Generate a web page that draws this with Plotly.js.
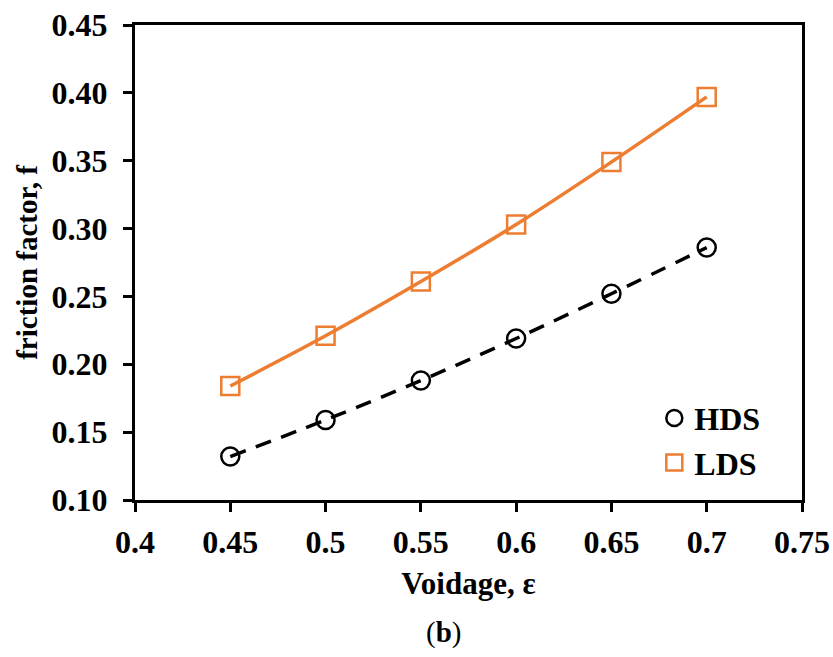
<!DOCTYPE html>
<html><head><meta charset="utf-8">
<script src="https://cdn.plot.ly/plotly-3.0.1.min.js"></script>
<style>body{margin:0}#c{width:833px;height:657px}</style></head>
<body><div id="c"></div>
<script>
const voidage = [0.45, 0.5, 0.55, 0.6, 0.65, 0.7];
const hdsF = [0.132, 0.159, 0.188, 0.219, 0.252, 0.286];
const ldsF = [0.184, 0.221, 0.261, 0.303, 0.349, 0.397];
const seriesNames = ['HDS', 'LDS'];
const fontFam = '"Liberation Serif", "Times New Roman", serif';
const orange = '#ED7D31';
const traces = [
  {x: voidage, y: hdsF, mode: 'lines', line: {color: '#000', width: 3.5, dash: '16px,11px', shape: 'spline'}, showlegend: false, hoverinfo: 'skip'},
  {x: voidage, y: ldsF, mode: 'lines', line: {color: orange, width: 3.5, shape: 'spline'}, showlegend: false, hoverinfo: 'skip'},
  {x: voidage, y: hdsF, mode: 'markers', name: seriesNames[0], marker: {symbol: 'circle-open', size: 18, color: '#000', line: {width: 2.5, color: '#000'}}},
  {x: voidage, y: ldsF, mode: 'markers', name: seriesNames[1], marker: {symbol: 'square-open', size: 18, color: orange, line: {width: 2.5, color: orange}}}
];
const layout = {
  width: 833, height: 657,
  margin: {l: 135, r: 31, t: 25, b: 157},
  paper_bgcolor: '#fff', plot_bgcolor: '#fff',
  font: {family: fontFam, color: '#000', size: 30},
  showlegend: true,
  legend: {x: 0.945, y: 0.125, xanchor: 'right', yanchor: 'middle', font: {family: fontFam, size: 32, weight: 'bold'}, bgcolor: 'rgba(0,0,0,0)', itemwidth: 30, tracegroupgap: 0},
  xaxis: {
    range: [0.4, 0.75], dtick: 0.05, tick0: 0.4, showgrid: false, zeroline: false,
    showline: true, linecolor: '#000', linewidth: 3, mirror: true,
    ticks: 'outside', ticklen: 9, tickwidth: 3, tickcolor: '#000', ticklabelstandoff: 3,
    tickfont: {family: fontFam, size: 32, weight: 'bold'},
    title: {text: 'Voidage, ε', font: {family: fontFam, size: 31, weight: 'bold'}, standoff: 13}
  },
  yaxis: {
    range: [0.10, 0.45], dtick: 0.05, tick0: 0.1, tickformat: '.2f', showgrid: false, zeroline: false,
    showline: true, linecolor: '#000', linewidth: 3, mirror: true,
    ticks: 'outside', ticklen: 9, tickwidth: 3, tickcolor: '#000', ticklabelstandoff: 9,
    tickfont: {family: fontFam, size: 32, weight: 'bold'},
    title: {text: 'friction factor, f', font: {family: fontFam, size: 29, weight: 'bold'}, standoff: 6}
  },
  annotations: [{
    text: '(<b>b</b>)', xref: 'paper', yref: 'paper', x: 0.462, y: -0.278, xanchor: 'center', yanchor: 'middle',
    showarrow: false, font: {family: fontFam, size: 29, color: '#000'}
  }]
};
Plotly.newPlot('c', traces, layout, {displayModeBar: false, staticPlot: true});
</script></body></html>
